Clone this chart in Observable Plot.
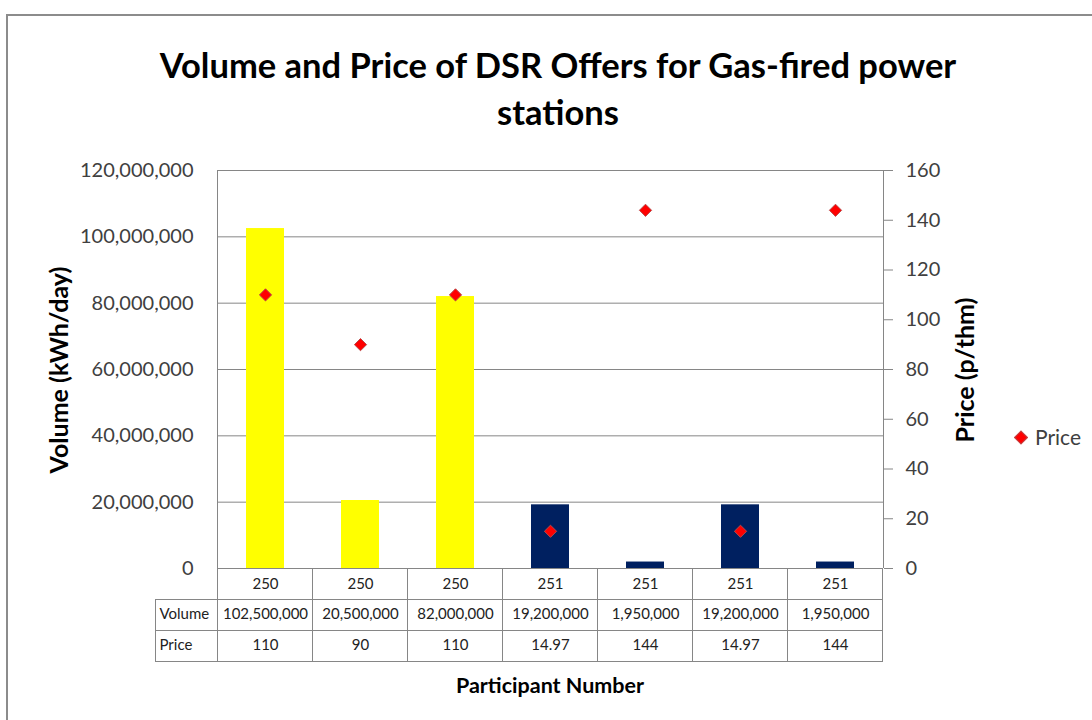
<!DOCTYPE html>
<html><head><meta charset="utf-8">
<script src="https://cdn.jsdelivr.net/npm/d3@7"></script>
<script src="https://cdn.jsdelivr.net/npm/@observablehq/plot@0.6"></script>
<style>
body{margin:0;background:#fff;}
#wrap{position:relative;width:1092px;height:720px;overflow:hidden;font-family:Lato,"Open Sans",sans-serif;background:#fff;}
#border{position:absolute;left:6px;top:14px;width:1200px;height:800px;border-left:2px solid #8c8c8c;border-top:2px solid #8c8c8c;}
.abs{position:absolute;white-space:nowrap;}
#wrap svg{position:absolute;left:0;top:0;}
</style></head><body>
<div id="wrap"><div id="border"></div></div>
<script>
const participants = ["250","250","250","251","251","251","251"];
const volumes = [102500000, 20500000, 82000000, 19200000, 1950000, 19200000, 1950000];
const prices = [110, 90, 110, 14.97, 144, 14.97, 144];
const volumeTicks = [0, 20000000, 40000000, 60000000, 80000000, 100000000, 120000000];
const priceTicks = [0, 20, 40, 60, 80, 100, 120, 140, 160];
const rowLabels = ["Volume", "Price"];
const barColors = ["#FFFF00", "#002060"];

const data = participants.map((p, i) => ({i, participant: p, volume: volumes[i], price: prices[i]}));
const vMax = volumeTicks[volumeTicks.length - 1];
const pMax = priceTicks[priceTicks.length - 1];
const k = vMax / pMax; // secondary axis conversion
const fmt = d3.format(",");
const grey = "#868686";
const txt = "#404040";

function tableGrid(index, scales, values, dims) {
  const x = scales.x;
  const step = x.step(), bw = x.bandwidth();
  const L = dims.marginLeft, R = dims.width - dims.marginRight;
  const T = dims.marginTop, B = dims.height - dims.marginBottom;
  const rowH = 31, labelW = 62;
  const g = d3.create("svg:g").attr("stroke", grey).attr("fill", "none").attr("stroke-width", 1).attr("shape-rendering", "crispEdges");
  const line = (x1, y1, x2, y2) => g.append("line").attr("x1", x1).attr("y1", y1).attr("x2", x2).attr("y2", y2);
  line(L, T, L, B);
  line(R, T, R, B);
  const bounds = data.map(d => x(d.i) - (step - bw) / 2);
  bounds.push(bounds[bounds.length - 1] + step);
  for (const b of bounds) line(b, B, b, B + 3 * rowH);
  for (let r = 1; r <= 3; r++) line(L - labelW, B + r * rowH, R, B + r * rowH);
  line(L - labelW, B + rowH, L - labelW, B + 3 * rowH);
  return g.node();
}

const chart = Plot.plot({
  width: 1092, height: 720,
  marginTop: 170, marginBottom: 152, marginLeft: 217, marginRight: 209,
  style: {fontFamily: "Lato, 'Open Sans', sans-serif", fontSize: "20px", background: "transparent", color: txt},
  x: {type: "band", domain: data.map(d => d.i), paddingInner: 0.6, paddingOuter: 0.3, axis: null},
  y: {domain: [0, vMax], axis: null},
  color: {domain: ["250", "251"], range: barColors},
  marks: [
    Plot.gridY(volumeTicks, {stroke: grey, strokeOpacity: 1}),
    Plot.barY(data, {x: "i", y: "volume", fill: "participant"}),
    tableGrid,
    Plot.axisY(volumeTicks, {anchor: "left", label: null, tickSize: 0, tickPadding: 24, tickFormat: fmt, fill: txt, fontSize: 20}),
    Plot.axisY(priceTicks.map(p => p * k), {anchor: "right", label: null, tickSize: 9, tickPadding: 13, stroke: grey, fill: txt, fontSize: 20, tickFormat: v => String(Math.round(v / k))}),
    Plot.dot(data, {x: "i", y: d => d.price * k, symbol: "diamond2", r: 5.5, fill: "#FF0000", stroke: "#B84A4A", strokeWidth: 1}),
    Plot.text(data, {x: "i", text: "participant", frameAnchor: "bottom", dy: 20, fontSize: 15, fill: "#222"}),
    Plot.text(data, {x: "i", text: d => fmt(d.volume), frameAnchor: "bottom", dy: 50, fontSize: 15, fill: "#222"}),
    Plot.text(data, {x: "i", text: d => String(d.price), frameAnchor: "bottom", dy: 81, fontSize: 15, fill: "#222"}),
    Plot.text([rowLabels[0]], {frameAnchor: "bottom-left", dx: -58, dy: 50, textAnchor: "start", fontSize: 15, fill: "#222"}),
    Plot.text([rowLabels[1]], {frameAnchor: "bottom-left", dx: -58, dy: 81, textAnchor: "start", fontSize: 15, fill: "#222"})
  ]
});
const wrap = document.getElementById("wrap");
wrap.appendChild(chart);

function addDiv(html, style) {
  const d = document.createElement("div");
  d.className = "abs";
  d.innerHTML = html;
  Object.assign(d.style, style);
  wrap.appendChild(d);
  return d;
}
addDiv("Volume and Price of DSR Offers for Gas-fired power<br>stations", {left: "58px", top: "41px", width: "1000px", textAlign: "center", fontSize: "34.5px", lineHeight: "47px", fontWeight: "bold", color: "#000"});
addDiv("Volume (kWh/day)", {left: "58px", top: "370px", transform: "translate(-50%,-50%) rotate(-90deg)", fontSize: "25px", fontWeight: "bold", color: "#000"});
addDiv("Price (p/thm)", {left: "964px", top: "370px", transform: "translate(-50%,-50%) rotate(-90deg)", fontSize: "25px", fontWeight: "bold", color: "#000"});
addDiv("Participant Number", {left: "550px", top: "685px", transform: "translate(-50%,-50%)", fontSize: "21.5px", fontWeight: "bold", color: "#000"});
addDiv('<span style="display:inline-block;width:8px;height:8px;background:#FF0000;border:1px solid #B84A4A;transform:rotate(45deg);margin-right:9px;vertical-align:middle;position:relative;top:-2px"></span>Price', {left: "1016px", top: "436px", transform: "translateY(-50%)", fontSize: "21px", color: txt});
</script>
</body></html>
